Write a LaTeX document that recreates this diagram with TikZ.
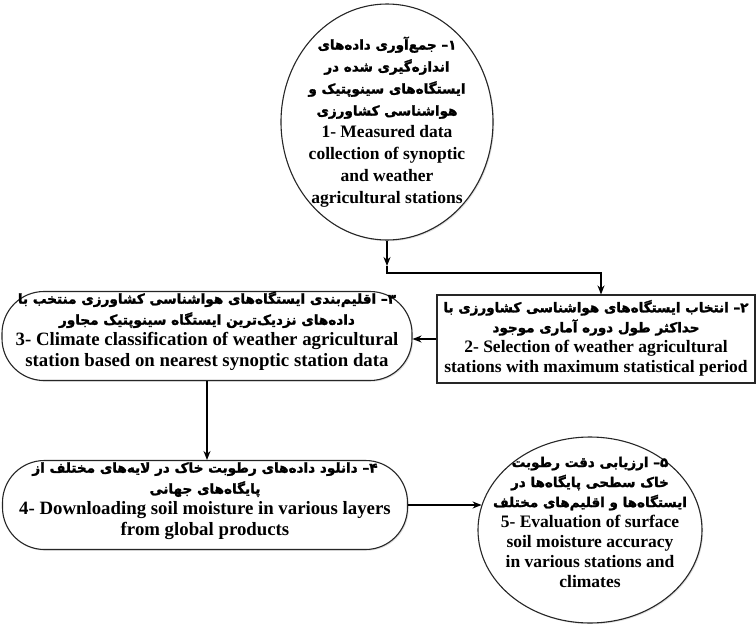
\documentclass[tikz,border=0pt]{standalone}
\usepackage{fontspec}
\setmainfont{Liberation Serif}
\newfontfamily\fafont[Script=Arabic,BoldFeatures={FakeBold=1.8}]{DejaVu Sans}
\TeXXeTstate=1
\usetikzlibrary{shapes.geometric,arrows.meta,shadows}
\newcommand{\fatxt}[1]{{\fafont\bfseries\fontsize{13.5}{20}\selectfont\beginR #1\endR}}
\newcommand{\fatxtL}[1]{{\fafont\bfseries\fontsize{13.6}{21}\selectfont\beginR #1\endR}}
\begin{document}
\begin{tikzpicture}[x=1pt,y=-1pt,
  shp/.style={draw=black!85, line width=1.1pt, fill=white,
    drop shadow={shadow xshift=1.2pt,shadow yshift=-1.2pt,opacity=0.25}},
  ell/.style={shp, ellipse, inner sep=0pt},
  rbox/.style={shp, rectangle, rounded corners=42pt, inner sep=0pt},
  sbox/.style={shp, rectangle, inner sep=0pt},
  txt/.style={align=center, inner sep=0pt, font=\bfseries\fontsize{17.5}{20}\selectfont},
  txtw/.style={align=center, inner sep=0pt, font=\bfseries\fontsize{17.5}{22}\selectfont},
  txtb/.style={align=center, inner sep=0pt, font=\bfseries\fontsize{18.8}{21}\selectfont},
  arr/.style={-{Stealth[length=9pt,width=7pt]}, line width=1.2pt},
  arrb/.style={-{Stealth[length=9pt,width=7pt]}, line width=1.8pt},
]
\useasboundingbox (0,0) rectangle (756,624);

% shapes
\node[ell, minimum width=212pt, minimum height=236pt] (c1) at (387,122) {};
\node[sbox, minimum width=318pt, minimum height=88pt] (b2) at (596,339) {};
\node[rbox, minimum width=410pt, minimum height=89pt] (b3) at (207,336) {};
\node[rbox, minimum width=405pt, minimum height=89pt] (b4) at (205,505) {};
\node[ell, minimum width=224pt, minimum height=186pt] (c5) at (590,530) {};

% texts
\node[txtw] (t1) at (c1.center) {%
\fatxt{^^^^06f1– جمع^^^^200cآوری داده^^^^200cهای}\\
\fatxt{اندازه^^^^200cگیری شده در}\\
\fatxt{ایستگاه^^^^200cهای سینوپتیک و}\\
\fatxt{هواشناسی کشاورزی}\\
1- Measured data\\
collection of synoptic\\
and weather\\
agricultural stations};

\node[txt] (t2) at ([yshift=1pt]b2.center) {%
\fatxt{^^^^06f2– انتخاب ایستگاه^^^^200cهای هواشناسی کشاورزی با}\\
\fatxt{حداکثر طول دوره آماری موجود}\\
2- Selection of weather agricultural\\
stations with maximum statistical period};

\node[txtb] (t3) at ([yshift=5pt]b3.center) {%
\fatxtL{^^^^06f3– اقلیم^^^^200cبندی ایستگاه^^^^200cهای هواشناسی کشاورزی منتخب با}\\
\fatxtL{داده^^^^200cهای نزدیک^^^^200cترین ایستگاه سینوپتیک مجاور}\\
3- Climate classification of weather agricultural\\
station based on nearest synoptic station data};

\node[txtb] (t4) at ([yshift=4pt]b4.center) {%
\fatxtL{^^^^06f4– دانلود داده^^^^200cهای رطوبت خاک در لایه^^^^200cهای مختلف از}\\
\fatxtL{پایگاه^^^^200cهای جهانی}\\
4- Downloading soil moisture in various layers\\
from global products};

\node[txt] (t5) at ([yshift=8pt]c5.center) {%
\fatxt{^^^^06f5– ارزیابی دقت رطوبت}\\
\fatxt{خاک سطحی پایگاه^^^^200cها در}\\
\fatxt{ایستگاه^^^^200cها و اقلیم^^^^200cهای مختلف}\\
5- Evaluation of surface\\
soil moisture accuracy\\
in various stations and\\
climates};

% connectors
\coordinate (k0) at (387,266);
\coordinate (k1) at (387,273);
\coordinate (k2) at (601,273);
\draw[arrb] (c1.south) -- (k0);
\draw[arrb] (k0) -- (k1) -- (k2) -- (k2 |- b2.north);
\draw[arr] (b2.west) -- (b2.west -| b3.east);
\draw[arr] (b3.south) -- (b3.south |- b4.north);
\draw[arr] (b4.east) -- (b4.east -| c5.167);
\end{tikzpicture}
\end{document}
